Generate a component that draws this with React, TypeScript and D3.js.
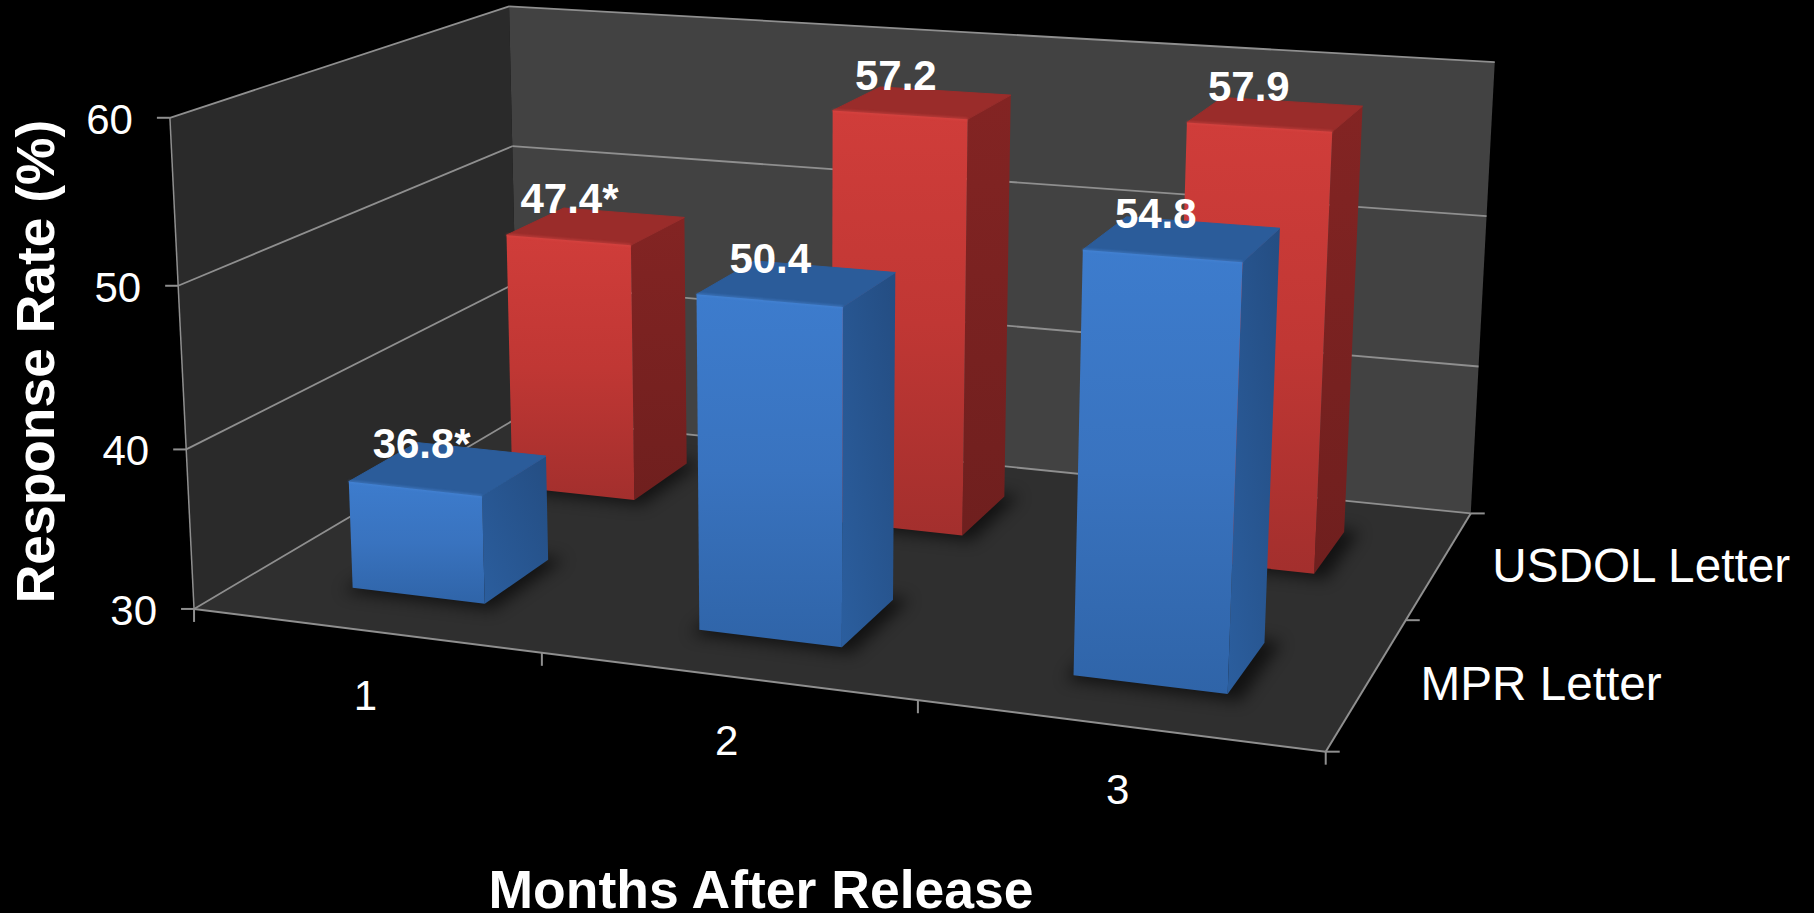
import React from "react";
import * as d3 from "d3";

const months = ["1", "2", "3"];
const letters = ["MPR Letter", "USDOL Letter"];
const mprRates = [36.8, 50.4, 54.8];
const usdolRates = [47.4, 57.2, 57.9];
const mprLabels = ["36.8*", "50.4", "54.8"];
const usdolLabels = ["47.4*", "57.2", "57.9"];
const rateTicks = [30, 40, 50, 60];

// Screen anchors of the plot box: [month position, depth, rate, px, py]
const anchors = [
  [0, 0, 60, 169.5, 117], [0, 1, 60, 510, 6.7], [3, 1, 60, 1494.6, 61.7],
  [0, 0, 30, 195.5, 609], [3, 0, 30, 1324.6, 751], [0, 1, 30, 517, 416.5], [3, 1, 30, 1471, 513],
  [1, 0, 30, 542.5, 654], [2, 0, 30, 917.4, 701], [0, 0, 50, 177.5, 285.7], [0, 0, 40, 186, 449],
  [3, 1, 50, 1486.5, 216.7], [3, 1, 40, 1478.4, 366.7], [3, 0.5, 30, 1407, 620], [0, 1, 50, 512.4, 146.7],
];

function solve(A: number[][], b: number[]) {
  const n = b.length;
  const M = A.map((r, i) => [...r, b[i]]);
  for (let c = 0; c < n; c++) {
    let p = c;
    for (let r = c + 1; r < n; r++) if (Math.abs(M[r][c]) > Math.abs(M[p][c])) p = r;
    [M[c], M[p]] = [M[p], M[c]];
    for (let r = 0; r < n; r++) {
      if (r === c) continue;
      const f = M[r][c] / M[c][c];
      for (let k = c; k <= n; k++) M[r][k] -= f * M[c][k];
    }
  }
  return M.map((r, i) => r[n] / r[i]);
}

// Least-squares perspective camera through the box anchors.
function fitCamera() {
  const rows: number[][] = [];
  const rhs: number[] = [];
  for (const [x, d, v, px, py] of anchors) {
    const w = (v - 30) / 30, u = px / 1000, t = py / 1000;
    rows.push([x, d, w, 1, 0, 0, 0, 0, -u * x, -u * d, -u * w]); rhs.push(u);
    rows.push([0, 0, 0, 0, x, d, w, 1, -t * x, -t * d, -t * w]); rhs.push(t);
  }
  const n = 11;
  const AtA = d3.range(n).map((i) => d3.range(n).map((j) => d3.sum(rows, (r) => r[i] * r[j])));
  const Atb = d3.range(n).map((i) => d3.sum(rows, (r, k) => r[i] * rhs[k]));
  return solve(AtA, Atb);
}
const cam = fitCamera();

const rateScale = d3.scaleLinear().domain([30, 60]).range([0, 1]);
const monthScale = d3.scaleBand<string>().domain(months).range([0.008, 2.995]).paddingInner(0.61).paddingOuter(0.3);
const depthScale = d3.scaleBand<string>().domain(letters).range([0, 1]).paddingInner(0.6).paddingOuter(0.3);

function project(x: number, d: number, v: number): [number, number] {
  const w = rateScale(v);
  const den = cam[8] * x + cam[9] * d + cam[10] * w + 1;
  return [
    (1000 * (cam[0] * x + cam[1] * d + cam[2] * w + cam[3])) / den,
    (1000 * (cam[4] * x + cam[5] * d + cam[6] * w + cam[7])) / den,
  ];
}

const facePath = d3.line<[number, number]>().curve(d3.curveLinearClosed);
const segPath = d3.line<[number, number]>();
const face = (...pts: [number, number, number][]) => facePath(pts.map((p) => project(p[0], p[1], p[2]))) as string;
const seg = (a: [number, number, number], b: [number, number, number]) =>
  segPath([project(...a), project(...b)]) as string;

const GRID = "#8f8f8f";
const FONT = "'Liberation Sans', Arial, sans-serif";

type Palette = { id: string; top: string; edge: string; labelLift: number };
const blue: Palette = { id: "blue", top: "#2b5c9a", edge: "#4a88d8", labelLift: 10.5 };
const red: Palette = { id: "red", top: "#9a2c2a", edge: "#dc4a46", labelLift: 13 };

function Bar({ month, letter, rate, pal }: { month: string; letter: string; rate: number; pal: Palette }) {
  const x0 = monthScale(month)!;
  const x1 = x0 + monthScale.bandwidth();
  const d0 = depthScale(letter)!;
  const d1 = d0 + depthScale.bandwidth();
  const [tx, ty] = [project(x0, d0, rate), project(x1, d0, rate)];
  return (
    <g strokeLinejoin="round">
      <path d={face([x1, d0, 30], [x1, d1, 30], [x1, d1, rate], [x1, d0, rate])} fill={`url(#${pal.id}Side)`} />
      <path d={face([x0, d0, rate], [x1, d0, rate], [x1, d1, rate], [x0, d1, rate])} fill={pal.top} stroke={pal.top} strokeWidth={1} />
      <path d={face([x0, d0, 30], [x1, d0, 30], [x1, d0, rate], [x0, d0, rate])} fill={`url(#${pal.id}Front)`} />
      <path d={segPath([tx, ty]) as string} stroke={pal.edge} strokeWidth={2.5} opacity={0.5} fill="none" filter="url(#soften)" />
    </g>
  );
}

function Shadow({ month, letter }: { month: string; letter: string }) {
  const x0 = monthScale(month)! - 0.01;
  const x1 = monthScale(month)! + monthScale.bandwidth() + 0.04;
  const d0 = depthScale(letter)! - 0.018;
  const d1 = depthScale(letter)! + depthScale.bandwidth() + 0.01;
  return <path d={face([x0, d0, 30], [x1, d0, 30], [x1, d1, 30], [x0, d1, 30])} fill="#000" opacity={0.62} filter="url(#floorBlur)" />;
}

export default function App() {
  const series = [
    { letter: letters[1], rates: usdolRates, labels: usdolLabels, pal: red },
    { letter: letters[0], rates: mprRates, labels: mprLabels, pal: blue },
  ];
  const textBase = { fontFamily: FONT, fill: "#fff" };
  return (
    <svg width={1814} height={913} style={{ position: "absolute", left: 0, top: 0, background: "#000" }}>
      <defs>
        <linearGradient id="blueFront" x1="0" y1="0" x2="0" y2="1">
          <stop offset="0" stopColor="#3d7ccd" />
          <stop offset="0.5" stopColor="#3973bf" />
          <stop offset="1" stopColor="#2f64a8" />
        </linearGradient>
        <linearGradient id="blueSide" x1="1" y1="0" x2="0" y2="1">
          <stop offset="0" stopColor="#244d82" />
          <stop offset="1" stopColor="#2b5e9e" />
        </linearGradient>
        <linearGradient id="redFront" x1="0" y1="0" x2="0" y2="1">
          <stop offset="0" stopColor="#d03d3a" />
          <stop offset="0.5" stopColor="#c03734" />
          <stop offset="1" stopColor="#a32f2d" />
        </linearGradient>
        <linearGradient id="redSide" x1="0" y1="0" x2="0" y2="1">
          <stop offset="0" stopColor="#832423" />
          <stop offset="1" stopColor="#6f1f1e" />
        </linearGradient>
        <filter id="floorBlur" x="-30%" y="-30%" width="160%" height="160%">
          <feGaussianBlur stdDeviation="8" />
        </filter>
        <filter id="soften" x="-5%" y="-200%" width="110%" height="500%">
          <feGaussianBlur stdDeviation="1" />
        </filter>
      </defs>

      {/* Walls and floor */}
      <path d={face([0, 0, 30], [0, 1, 30], [0, 1, 60], [0, 0, 60])} fill="#2a2a2a" />
      <path d={face([0, 1, 30], [3, 1, 30], [3, 1, 60], [0, 1, 60])} fill="#424242" />
      <path d={face([0, 0, 30], [3, 0, 30], [3, 1, 30], [0, 1, 30])} fill="#2f2f2f" />

      {/* Gridlines wrap the left and back walls */}
      {rateTicks.map((t) => (
        <g key={t} stroke={GRID} strokeWidth={1.8} fill="none">
          <path d={seg([0, 0, t], [0, 1, t])} />
          <path d={seg([0, 1, t], [3, 1, t])} />
        </g>
      ))}

      {/* Axis lines and tick marks */}
      <g stroke={GRID} strokeWidth={2} fill="none">
        <path d={seg([0, 0, 30], [0, 0, 60])} strokeWidth={1.5} />
        <path d={seg([0, 0, 30], [3, 0, 30])} />
        <path d={seg([3, 0, 30], [3, 1, 30])} />
        {rateTicks.map((t) => {
          const [px, py] = project(0, 0, t);
          return <line key={t} x1={px - 13} x2={px} y1={py} y2={py} />;
        })}
        {d3.range(0, 4).map((i) => {
          const [px, py] = project(i, 0, 30);
          return <line key={i} x1={px} x2={px} y1={py} y2={py + 13} />;
        })}
        {[0, 0.5, 1].map((d) => {
          const [px, py] = project(3, d, 30);
          return <line key={d} x1={px} x2={px + 14} y1={py} y2={py} />;
        })}
      </g>

      {/* Floor shadows, then bars from back to front */}
      {series.map((s) => months.map((m) => <Shadow key={s.letter + m} month={m} letter={s.letter} />))}
      {series.map((s) =>
        months.map((m, i) => <Bar key={s.letter + m} month={m} letter={s.letter} rate={s.rates[i]} pal={s.pal} />)
      )}

      {/* Value labels sit over the bar tops */}
      {series.map((s) =>
        months.map((m, i) => {
          const xc = monthScale(m)! + monthScale.bandwidth() / 2;
          const dc = depthScale(s.letter)! + depthScale.bandwidth() / 2;
          const [px, py] = project(xc, dc, s.rates[i]);
          return (
            <text key={s.letter + m} {...textBase} x={px - 27} y={py - s.pal.labelLift} fontSize={42} fontWeight={700} textAnchor="middle">
              {s.labels[i]}
            </text>
          );
        })
      )}

      {/* Rate axis labels */}
      {rateTicks.map((t) => {
        const [px, py] = project(0, 0, t);
        return (
          <text key={t} {...textBase} x={px - 37} y={py + 16} fontSize={42} textAnchor="end">
            {t}
          </text>
        );
      })}

      {/* Month labels */}
      {months.map((m) => {
        const [px, py] = project(monthScale(m)! + monthScale.bandwidth() / 2, 0, 30);
        return (
          <text key={m} {...textBase} x={px} y={py + 79} fontSize={42} textAnchor="middle">
            {m}
          </text>
        );
      })}

      {/* Letter labels */}
      {letters.map((l) => {
        const [px, py] = project(3, depthScale(l)! + depthScale.bandwidth() / 2, 30);
        return (
          <text key={l} {...textBase} x={px + 52.5} y={py + 18} fontSize={47.7}>
            {l}
          </text>
        );
      })}

      {/* Axis titles */}
      <text {...textBase} transform="translate(54,361.5) rotate(-90)" fontSize={53.4} fontWeight={700} textAnchor="middle">
        Response Rate (%)
      </text>
      <text {...textBase} x={761} y={908} fontSize={53.5} fontWeight={700} textAnchor="middle">
        Months After Release
      </text>
    </svg>
  );
}
